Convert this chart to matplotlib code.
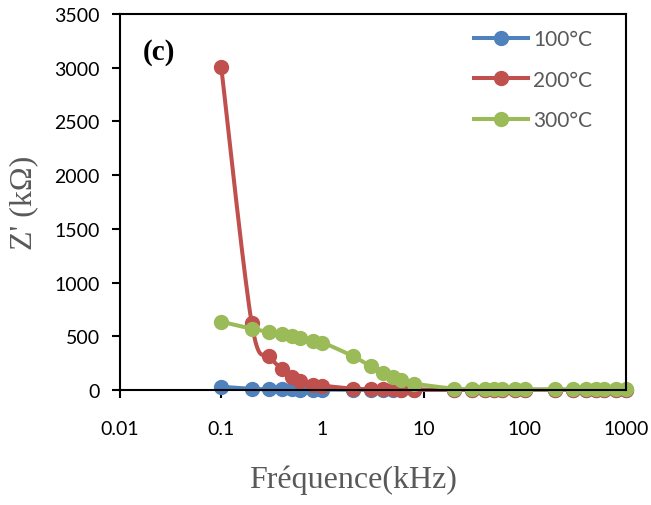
import numpy as np
import matplotlib.pyplot as plt

# frequencies (kHz) and real impedance Z' (kOhm) for each temperature
freq = [0.1, 0.2, 0.3, 0.4, 0.5, 0.6, 0.8, 1, 2, 3, 4, 5, 6, 8,
        20, 30, 40, 50, 60, 80, 100, 200, 300, 400, 500, 600, 800, 1000]
z_100 = [30, 10, 7, 6, 5, 4, 3, 3, 2, 2, 2, 2, 1, 1,
         1, 1, 1, 1, 1, 1, 1, 1, 1, 1, 1, 1, 1, 1]
z_200 = [3010, 625, 317, 195, 125, 88, 50, 40, 12, 8, 6, 5, 4, 3,
         2, 2, 2, 2, 2, 2, 2, 2, 2, 2, 2, 2, 2, 2]
z_300 = [635, 570, 540, 522, 505, 488, 460, 442, 315, 220, 155, 120, 95, 60,
         12, 8, 7, 6, 6, 5, 5, 5, 5, 5, 5, 5, 5, 5]

labels = ['100°C', '200°C', '300°C']
colors = ['#4F81BD', '#C0504D', '#9BBB59']

fig = plt.figure(figsize=(6.51, 5.06), dpi=100)
ax = fig.add_axes([0.1843, 0.2273, 0.7773, 0.7431])
ax.set_xscale('log')
ax.set_xlim(0.01, 1000)
ax.set_ylim(0, 3500)


def smooth(x, y, n=20):
    # smoothed line through the points, built in screen space
    pts = ax.transData.transform(np.column_stack([x, y]))
    p = np.vstack([pts[0], pts, pts[-1]])
    t = np.linspace(0, 1, n)[:, None]
    out = []
    for i in range(1, len(p) - 2):
        p0, p1, p2, p3 = p[i - 1], p[i], p[i + 1], p[i + 2]
        c1 = p1 + (p2 - p0) / 6
        c2 = p2 - (p3 - p1) / 6
        seg = ((1 - t) ** 3) * p1 + 3 * ((1 - t) ** 2) * t * c1 \
            + 3 * (1 - t) * t ** 2 * c2 + t ** 3 * p2
        out.append(seg if i == 1 else seg[1:])
    out = ax.transData.inverted().transform(np.vstack(out))
    return out[:, 0], out[:, 1]


for z, lab, c in zip([z_100, z_200, z_300], labels, colors):
    sx, sy = smooth(freq, z)
    ax.plot(sx, np.clip(sy, 0, None), '-', color=c, lw=2.9, clip_on=False)
    ax.plot(freq, z, 'o', color=c, ms=10, clip_on=False)
    ax.plot([], [], '-o', color=c, lw=2.9, ms=10, label=lab)

ax.set_xticks([0.01, 0.1, 1, 10, 100, 1000])
ax.set_xticklabels(['0.01', '0.1', '1', '10', '100', '1000'])
ax.set_yticks(range(0, 3501, 500))
ax.minorticks_off()

for s in ax.spines.values():
    s.set_linewidth(1.5)
ax.tick_params(axis='x', direction='out', length=5.5, width=1.5, pad=16,
               labelsize=14)
ax.tick_params(axis='y', direction='out', length=5.5, width=1.5, pad=9,
               labelsize=14)
for t in ax.get_xticklabels() + ax.get_yticklabels():
    t.set_fontfamily('Lato')

ax.set_xlabel('Fréquence(kHz)', family='Liberation Serif', fontsize=23,
              color='#595959', va='center')
ax.xaxis.set_label_coords(0.46, -0.237)
ax.set_ylabel("Z' (kΩ)", family='Liberation Serif', fontsize=23,
              color='#595959', va='center')
ax.yaxis.set_label_coords(-0.19, 0.5)

ax.text(0.077, 0.9, '(c)', transform=ax.transAxes, family='Liberation Serif',
        fontsize=21, fontweight='bold', va='center', ha='center')

leg = ax.legend(loc='upper left', frameon=False, handlelength=2.6,
                labelspacing=0.97, handletextpad=0.25, borderpad=0,
                borderaxespad=0, bbox_to_anchor=(0.6996, 0.959),
                prop={'family': 'Lato', 'size': 15})
for t in leg.get_texts():
    t.set_color('#595959')

fig.savefig('out.png', dpi=100)
